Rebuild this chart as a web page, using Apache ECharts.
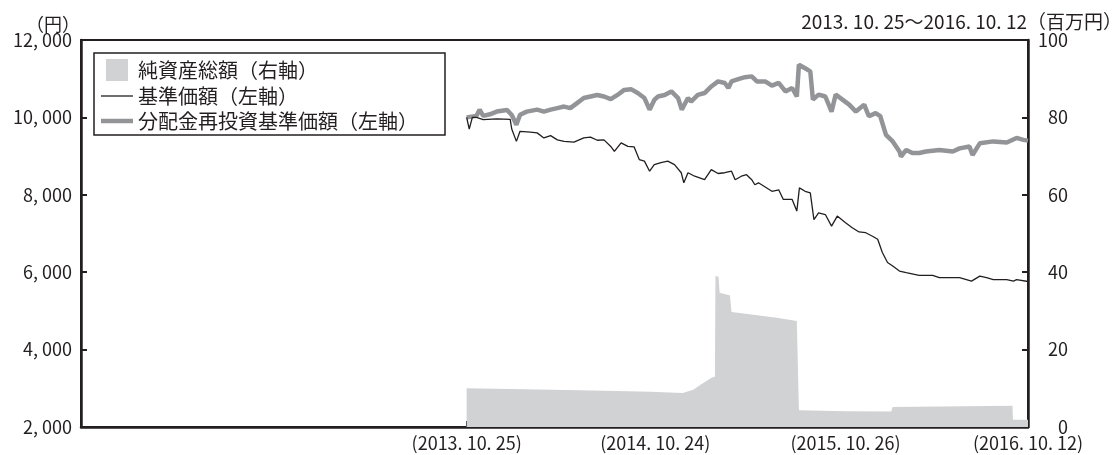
<!DOCTYPE html>
<html lang="ja">
<head>
    <meta charset="UTF-8">
    <title>基準価額・純資産総額の推移</title>
    <script src="https://cdn.jsdelivr.net/npm/echarts@6.0.0/dist/echarts.min.js"></script>
    <style>
        html, body { margin: 0; padding: 0; background: #fff; }
    </style>
</head>
<body>
    <div id="chart" style="width: 1119px; height: 455px;"></div>
    <script>
        // 基準価額（左軸）
        const navDates = [
            '2013-10-25', '2013-10-30', '2013-11-05', '2013-11-13', '2013-11-26', '2013-12-22',
            '2014-01-17', '2014-01-20', '2014-01-29', '2014-02-05', '2014-02-25', '2014-03-10',
            '2014-03-23', '2014-04-05', '2014-04-18', '2014-05-01', '2014-05-20', '2014-06-08',
            '2014-06-21', '2014-07-04', '2014-07-17', '2014-07-30', '2014-08-06', '2014-08-19',
            '2014-09-01', '2014-09-13', '2014-09-23', '2014-10-03', '2014-10-13', '2014-10-22',
            '2014-11-04', '2014-11-17', '2014-11-30', '2014-12-13', '2014-12-18', '2014-12-26',
            '2015-01-08', '2015-01-27', '2015-02-09', '2015-02-22', '2015-03-07', '2015-03-20',
            '2015-03-27', '2015-04-08', '2015-04-18', '2015-04-28', '2015-05-04', '2015-05-11',
            '2015-06-06', '2015-06-19', '2015-06-28', '2015-07-15', '2015-07-24', '2015-07-29',
            '2015-08-09', '2015-08-19', '2015-08-26', '2015-09-04', '2015-09-17', '2015-09-29',
            '2015-10-10', '2015-10-26', '2015-11-08', '2015-11-21', '2015-12-04', '2015-12-17',
            '2015-12-27', '2016-01-05', '2016-01-15', '2016-01-25', '2016-02-07', '2016-02-20',
            '2016-03-16', '2016-04-11', '2016-04-24', '2016-05-20', '2016-06-02', '2016-06-25',
            '2016-07-11', '2016-07-24', '2016-08-06', '2016-09-01', '2016-09-14', '2016-09-20',
            '2016-10-12'
        ];
        const navValues = [
            10000, 9700, 10000, 10000, 9940, 9960,
            9950, 9700, 9380, 9640, 9620, 9600,
            9470, 9530, 9420, 9380, 9360, 9470,
            9490, 9410, 9420, 9250, 9120, 9340,
            9250, 9240, 8910, 8870, 8610, 8780,
            8830, 8870, 8780, 8570, 8310, 8570,
            8480, 8390, 8650, 8550, 8570, 8610,
            8390, 8480, 8520, 8390, 8260, 8310,
            8090, 8130, 7880, 7880, 7580, 8180,
            8090, 8050, 7360, 7530, 7490, 7190,
            7450, 7280, 7150, 7040, 7020, 6930,
            6850, 6510, 6250, 6160, 6030, 5990,
            5920, 5920, 5860, 5860, 5860, 5770,
            5900, 5860, 5810, 5810, 5770, 5810,
            5760
        ];

        // 分配金再投資基準価額（左軸）
        const reinvDates = [
            '2013-10-25', '2013-11-13', '2013-11-19', '2013-11-26', '2013-12-09', '2013-12-22',
            '2014-01-11', '2014-01-20', '2014-01-29', '2014-02-05', '2014-02-18', '2014-03-10',
            '2014-03-23', '2014-04-05', '2014-04-18', '2014-05-01', '2014-05-13', '2014-05-26',
            '2014-06-08', '2014-06-21', '2014-07-04', '2014-07-17', '2014-07-30', '2014-08-12',
            '2014-08-25', '2014-09-07', '2014-09-20', '2014-10-03', '2014-10-13', '2014-10-22',
            '2014-10-29', '2014-11-11', '2014-11-24', '2014-12-07', '2014-12-14', '2014-12-26',
            '2015-01-01', '2015-01-14', '2015-01-27', '2015-02-09', '2015-02-22', '2015-03-07',
            '2015-03-14', '2015-03-20', '2015-04-02', '2015-04-15', '2015-04-28', '2015-05-08',
            '2015-05-24', '2015-06-06', '2015-06-19', '2015-07-02', '2015-07-15', '2015-07-24',
            '2015-07-28', '2015-08-09', '2015-08-19', '2015-08-24', '2015-09-04', '2015-09-17',
            '2015-09-29', '2015-10-07', '2015-10-20', '2015-11-02', '2015-11-15', '2015-12-01',
            '2015-12-10', '2015-12-23', '2016-01-01', '2016-01-12', '2016-01-25', '2016-02-07',
            '2016-02-10', '2016-02-20', '2016-03-03', '2016-03-16', '2016-03-29', '2016-04-24',
            '2016-05-20', '2016-06-02', '2016-06-21', '2016-06-27', '2016-07-11', '2016-08-06',
            '2016-09-01', '2016-09-20', '2016-10-03', '2016-10-12'
        ];
        const reinvValues = [
            10000, 10040, 10200, 10040, 10080, 10150,
            10190, 10060, 9810, 10070, 10150, 10200,
            10150, 10200, 10240, 10280, 10240, 10370,
            10500, 10540, 10580, 10540, 10470, 10580,
            10710, 10730, 10630, 10500, 10200, 10450,
            10540, 10580, 10670, 10500, 10200, 10500,
            10410, 10580, 10630, 10800, 10930, 10890,
            10760, 10930, 10990, 11040, 11060, 10930,
            10930, 10820, 10890, 10670, 10760, 10540,
            11360, 11270, 11190, 10460, 10590, 10540,
            10150, 10590, 10460, 10330, 10150, 10330,
            10030, 10110, 10030, 9550, 9380, 9120,
            8990, 9160, 9080, 9080, 9120, 9160,
            9120, 9200, 9250, 9030, 9330, 9380,
            9350, 9470, 9420, 9400
        ];

        // 純資産総額（右軸・百万円）
        const assetDates = [
            '2013-10-25', '2014-01-15', '2014-06-01', '2014-10-15', '2014-12-16', '2015-01-05',
            '2015-01-20', '2015-02-10', '2015-02-16', '2015-02-17', '2015-02-23', '2015-02-25',
            '2015-03-17', '2015-03-20', '2015-05-01', '2015-06-15', '2015-07-24', '2015-07-28',
            '2015-10-26', '2016-01-22', '2016-01-25', '2016-09-12', '2016-09-13', '2016-10-12'
        ];
        const assetValues = [
            10.0, 9.8, 9.5, 9.1, 8.8, 9.6,
            11.0, 12.8, 13.0, 39.0, 38.8, 34.7,
            34.0, 29.7, 29.0, 28.2, 27.4, 4.3,
            4.1, 4.0, 5.2, 5.5, 1.9, 1.9
        ];

        // 横軸の表示目盛
        const tickDates = ['2013-10-25', '2014-10-24', '2015-10-26', '2016-10-12'];
        const tickLabels = ['(2013. 10. 25)', '(2014. 10. 24)', '(2015. 10. 26)', '(2016. 10. 12)'];

        function toTime(s) {
            const p = s.split('-');
            return new Date(+p[0], +p[1] - 1, +p[2]).getTime();
        }
        const tickTimes = tickDates.map(toTime);

        const pairs = (dates, values) => dates.map((d, i) => [toTime(d), values[i]]);

        const ink = '#231f20';
        const font = "'Noto Sans CJK JP', sans-serif";

        var myChart = echarts.init(document.getElementById('chart'));

        const option = {
            animation: false,
            textStyle: { fontFamily: font, color: ink },
            title: [
                {
                    text: '（円）',
                    left: 21, top: 10,
                    textStyle: { fontFamily: font, fontSize: 18, fontWeight: 'normal', color: ink }
                },
                {
                    text: '2013. 10. 25～2016. 10. 12（百万円）',
                    right: -8, top: 7,
                    textStyle: { fontFamily: font, fontSize: 19, fontWeight: 'normal', color: ink }
                }
            ],
            legend: {
                orient: 'vertical',
                left: 94, top: 53,
                padding: [6, 27, 4, 7],
                itemWidth: 32, itemHeight: 22, itemGap: 5,
                borderColor: ink, borderWidth: 1.5,
                backgroundColor: '#fff',
                textStyle: { fontFamily: font, fontSize: 20, color: ink },
                data: [
                    { name: '純資産総額（右軸）', icon: 'path://M0 0H10V10H0Z' },
                    { name: '基準価額（左軸）', icon: 'path://M0 0H32V1.3H0Z' },
                    { name: '分配金再投資基準価額（左軸）', icon: 'path://M0 0H32V4.5H0Z' }
                ]
            },
            grid: {
                left: 81, right: 91, top: 40, bottom: 28,
                show: true, borderColor: ink, borderWidth: 2
            },
            xAxis: {
                type: 'value',
                min: toTime('2011-10-12'),
                max: toTime('2016-10-12'),
                axisLine: { lineStyle: { color: ink, width: 2.5 } },
                axisTick: { inside: true, length: 6, customValues: tickTimes, lineStyle: { color: ink, width: 2 } },
                axisLabel: {
                    customValues: tickTimes,
                    margin: 7,
                    fontSize: 18, color: ink, fontFamily: font,
                    formatter: function (val) {
                        const i = tickTimes.indexOf(+val);
                        return i >= 0 ? tickLabels[i] : '';
                    }
                },
                splitLine: { show: false }
            },
            yAxis: [
                {
                    type: 'value',
                    min: 2000, max: 12000, interval: 2000,
                    axisLine: { show: true, lineStyle: { color: ink, width: 2.5 } },
                    axisTick: { show: true, inside: true, length: 6, lineStyle: { color: ink, width: 2 } },
                    axisLabel: {
                        margin: 9, fontSize: 18, color: ink, fontFamily: font,
                        formatter: v => String(v).replace(/(\d+)(\d{3})$/, '$1, $2')
                    },
                    splitLine: { show: false }
                },
                {
                    type: 'value',
                    min: 0, max: 100, interval: 20,
                    axisLine: { show: true, lineStyle: { color: ink, width: 2.5 } },
                    axisTick: { show: true, inside: true, length: 6, lineStyle: { color: ink, width: 2 } },
                    axisLabel: { margin: 40, align: 'right', fontSize: 18, color: ink, fontFamily: font },
                    splitLine: { show: false }
                }
            ],
            series: [
                {
                    name: '純資産総額（右軸）',
                    type: 'line',
                    yAxisIndex: 1,
                    data: pairs(assetDates, assetValues),
                    symbol: 'none',
                    color: '#d1d2d4',
                    lineStyle: { width: 0 },
                    areaStyle: { color: '#d1d2d4', opacity: 1 },
                    z: 1
                },
                {
                    name: '分配金再投資基準価額（左軸）',
                    type: 'line',
                    data: pairs(reinvDates, reinvValues),
                    symbol: 'none',
                    color: '#929497',
                    lineStyle: { width: 4.5, color: '#929497' },
                    z: 2
                },
                {
                    name: '基準価額（左軸）',
                    type: 'line',
                    data: pairs(navDates, navValues),
                    symbol: 'none',
                    color: ink,
                    lineStyle: { width: 1.3, color: ink },
                    z: 3
                }
            ]
        };

        myChart.setOption(option);
    </script>
</body>
</html>
